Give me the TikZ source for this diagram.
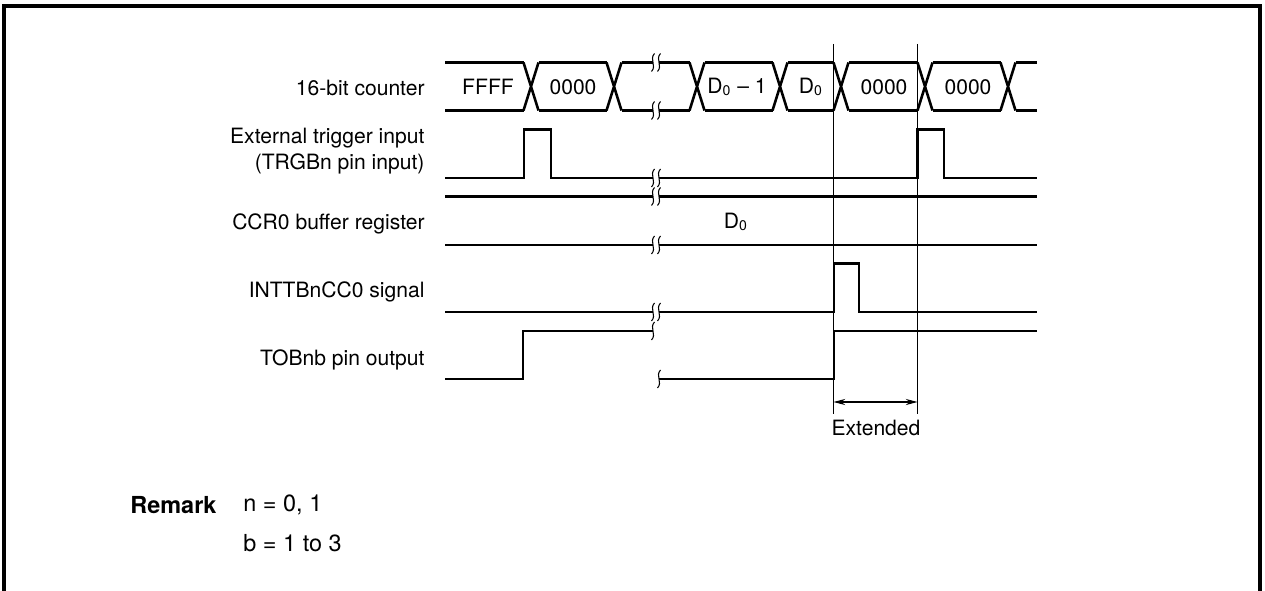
\documentclass[tikz,border=0pt]{standalone}
\usepackage{fontspec}
\setmainfont{TeX Gyre Heros}
\usepackage{tikz}
\usetikzlibrary{arrows.meta,positioning}

\begin{document}
\begin{tikzpicture}[x=0.015cm,y=-0.015cm,
  sig/.style={line width=1.1pt},
  thinln/.style={line width=0.45pt},
  lbl/.style={anchor=east,align=right,inner sep=0pt,font=\fontsize{9}{11}\selectfont},
  val/.style={inner sep=0pt,font=\fontsize{9}{11}\selectfont},
  rem/.style={anchor=west,inner sep=0pt,font=\fontsize{10}{12}\selectfont},
  brk/.pic={\draw[line width=0.45pt] (1.5,-9) .. controls (-4,-3) and (4,3) .. (-1.5,9);}]
\useasboundingbox (0,0) rectangle (1265,591);
\draw[line width=1.6pt] (4,591) -- (4,6) -- (1260,6) -- (1260,591);
\node[lbl] (lcnt) at (425,88) {16-bit counter};
\node[lbl] (ltrg) at (425,151) {External trigger input\\(TRGBn pin input)};
\node[lbl] (lccr) at (425,224) {CCR0 buffer register};
\node[lbl] (lint) at (425,292) {INTTBnCC0 signal};
\node[lbl] (ltob) at (425,360) {TOBnb pin output};
\foreach \c in {531,614,697,780,841,925,1008}
  \draw[sig] (\c-7.5,62.5) -- (\c+7.5,110.5) (\c-7.5,110.5) -- (\c+7.5,62.5);
\foreach \a/\b in {445/523.5,538.5/606.5,621.5/653,659/689.5,704.5/772.5,787.5/833.5,848.5/917.5,932.5/1000.5,1015.5/1037}
  \draw[sig] (\a,62.5) -- (\b,62.5) (\a,110.5) -- (\b,110.5);
\node[val] (vffff) at (488,87) {FFFF};
\node[val] (vzero1) at (573,87) {0000};
\node[val] (vdm) at (737,87) {D\textsubscript{0} \textendash{} 1};
\node[val] (vd) at (811,87) {D\textsubscript{0}};
\node[val] (vzero2) at (884,87) {0000};
\node[val] (vzero3) at (968,87) {0000};
\draw[sig] (445,178) -- (524,178) -- (524,129.5) -- (551,129.5) -- (551,178) -- (653,178)
  (659,178) -- (917.5,178) -- (917.5,129.5) -- (944,129.5) -- (944,178) -- (1037,178);
\draw[sig] (445,196.5) -- (653,196.5) (659,196.5) -- (1037,196.5);
\draw[sig] (445,245) -- (653,245) (659,245) -- (1037,245);
\node[val] (vccr) at (736,222) {D\textsubscript{0}};
\draw[sig] (445,312) -- (653,312) (659,312) -- (834,312) -- (834,263.5) -- (859,263.5) -- (859,312) -- (1037,312);
\draw[sig] (445,379) -- (523,379) -- (523,331) -- (653,331)
  (659,379) -- (834,379) -- (834,331) -- (1037,331);
\foreach \y in {62.5,110.5,178,196.5,245,312}
  \pic at (653,\y) {brk}; 
\foreach \y in {62.5,110.5,178,196.5,245,312}
  \pic at (659,\y) {brk};
\pic at (653,331) {brk};
\pic at (659,379) {brk};
\coordinate (ta) at (833.5,44);
\coordinate (tb) at (917.5,44);
\coordinate (ba) at (833.5,414);
\coordinate (bb) at (917.5,414);
\draw[thinln] (ta) -- (ba) (tb) -- (bb);
\draw[thinln,{Stealth[length=5pt,width=2.6pt]}-{Stealth[length=5pt,width=2.6pt]}] (833.5,402) -- (917.5,402);
\node[val] (ext) at (876,428) {Extended};
\node[rem,font=\fontsize{10}{12}\selectfont\bfseries] (rmk) at (130,505) {Remark};
\node[rem] (rn) at (243,505) {n = 0, 1};
\node[rem] (rb) at (243,543) {b = 1 to 3};
\end{tikzpicture}
\end{document}
